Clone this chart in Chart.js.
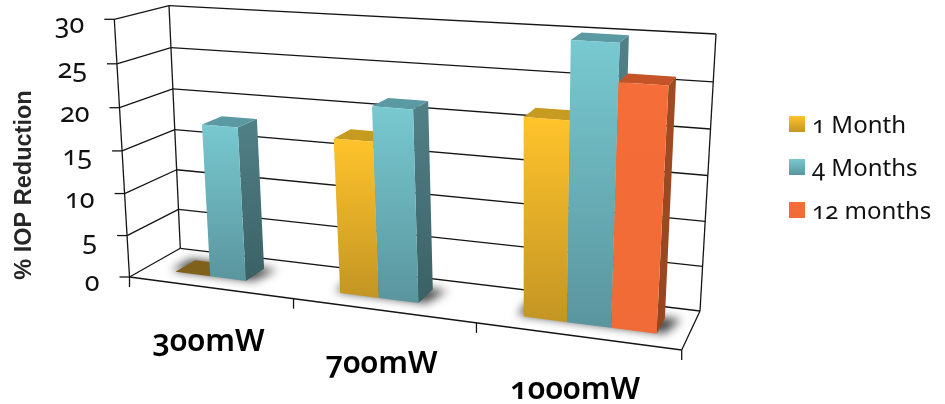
<!DOCTYPE html>
<html>
<head>
<meta charset="utf-8">
<style>
  html, body { margin: 0; padding: 0; background: #fff; }
  #alan { position: relative; width: 945px; height: 404px; overflow: hidden; }
  canvas { display: block; }
  .etiket {
    position: absolute; white-space: nowrap; color: #111;
    font-family: 'Noto Sans', sans-serif;
    font-variant-numeric: oldstyle-nums;
    font-feature-settings: "onum" 1;
    line-height: 1;
  }
</style>
<script src="https://cdn.jsdelivr.net/npm/chart.js@4"></script>
</head>
<body>
<div id="alan"><canvas id="grafik" width="945" height="404"></canvas></div>
<script>
var categories = ["300mW", "700mW", "1000mW"];
var seriesNames = ["1 Month", "4 Months", "12 months"];
var oneMonth = [0, 17.7, 21.7];
var fourMonths = [18, 21.6, 30];
var twelveMonths = [null, null, 26];
var yTicks = { min: 0, max: 30, step: 5 };
var yTitle = "% IOP Reduction";

// colours: front top, front bottom, side top, side bottom, top face
var faceColors = [
  ["#ffc32b", "#c39523", "#a67d1f", "#8a6a1c", "#c79a20"],
  ["#78c9d0", "#5a959e", "#518187", "#3a6165", "#5b9aa2"],
  ["#f56d38", "#f06b37", "#a04b23", "#96461f", "#c45427"]
];
var flatColor = "#7f611b";

// corners of the 3d box on screen
var floorCorners = [[129.5, 277], [681.7, 350], [700, 311], [180.3, 248.3]];
var roofCorners = [[114.3, 19.3], [700, 54], [716, 34], [169, 5.7]];
var barDepth = [0.3, 0.7];
var barShift = 0.008;
var lineColor = "#151515";

function kareHaritasi(q) {
  var x0 = q[0][0], y0 = q[0][1], x1 = q[1][0], y1 = q[1][1];
  var x2 = q[2][0], y2 = q[2][1], x3 = q[3][0], y3 = q[3][1];
  var dx1 = x1 - x2, dx2 = x3 - x2, dx3 = x0 - x1 + x2 - x3;
  var dy1 = y1 - y2, dy2 = y3 - y2, dy3 = y0 - y1 + y2 - y3;
  var den = dx1 * dy2 - dx2 * dy1;
  var g = (dx3 * dy2 - dx2 * dy3) / den;
  var h = (dx1 * dy3 - dx3 * dy1) / den;
  var a = x1 - x0 + g * x1, b = x3 - x0 + h * x3;
  var d = y1 - y0 + g * y1, e = y3 - y0 + h * y3;
  return function (u, v) {
    var w = g * u + h * v + 1;
    return [(a * u + b * v + x0) / w, (d * u + e * v + y0) / w];
  };
}
var floorMap = kareHaritasi(floorCorners);
var roofMap = kareHaritasi(roofCorners);

// u across, w into the wall, t height (all 0..1)
function project(u, w, t) {
  var k = 1.044;
  var f = t / (t + k * (1 - t));
  var a = floorMap(u, w), b = roofMap(u, w);
  return [a[0] + (b[0] - a[0]) * f, a[1] + (b[1] - a[1]) * f];
}

function line(ctx, a, b) {
  ctx.beginPath();
  ctx.moveTo(a[0], a[1]);
  ctx.lineTo(b[0], b[1]);
  ctx.stroke();
}

function poly(ctx, pts, fill) {
  ctx.beginPath();
  ctx.moveTo(pts[0][0], pts[0][1]);
  for (var i = 1; i < pts.length; i++) ctx.lineTo(pts[i][0], pts[i][1]);
  ctx.closePath();
  ctx.fillStyle = fill;
  ctx.fill();
}

function dikeyGradyan(ctx, top, bottom, c1, c2) {
  var g = ctx.createLinearGradient(0, top, 0, bottom);
  g.addColorStop(0, c1);
  g.addColorStop(1, c2);
  return g;
}

// canvas text has no old style digits, so labels go in html over the canvas
function etiket(text, x, y, css, ax) {
  var d = document.createElement("div");
  d.className = "etiket";
  d.textContent = text;
  d.style.cssText = "left:" + x + "px;top:" + y + "px;transform:translate(" + ax + ",-50%);" + css;
  document.getElementById("alan").appendChild(d);
}

function etiketleriTemizle() {
  document.querySelectorAll(".etiket").forEach(function (d) { d.remove(); });
}

var kutuGrafik = {
  id: "kutuGrafik",
  beforeDatasetsDraw: function (chart) {
    var ctx = chart.ctx;
    var xs = chart.scales.x, ys = chart.scales.y;
    var toU = function (px) { return (px - xs.left) / (xs.right - xs.left); };
    var toT = function (v) { return (ys.bottom - ys.getPixelForValue(v)) / (ys.bottom - ys.top); };

    etiketleriTemizle();

    // walls and grid
    ctx.save();
    ctx.strokeStyle = lineColor;
    ctx.lineWidth = 1.3;
    ys.ticks.forEach(function (tick) {
      var t = toT(tick.value);
      var a = project(0, 0, t), b = project(0, 1, t), c = project(1, 1, t);
      line(ctx, a, b);
      line(ctx, b, c);
      line(ctx, [a[0] - 10, a[1]], a);
      etiket(String(tick.value), a[0] - 30, a[1] + 3, "font-size:27px", "-100%");
    });
    line(ctx, project(0, 0, 0), project(0, 0, 1));
    line(ctx, project(0, 1, 0), project(0, 1, 1));
    line(ctx, project(1, 1, 0), project(1, 1, 1));
    line(ctx, project(0, 0, 0), project(1, 0, 0));
    line(ctx, project(1, 0, 0), project(1, 1, 0));

    // category ticks under the front edge and their labels
    var n = categories.length;
    for (var i = 0; i <= n; i++) {
      var p = project(i / n, 0, 0);
      line(ctx, p, [p[0], p[1] + 10]);
    }
    categories.forEach(function (name, i) {
      var p = project(toU(xs.getPixelForTick(i)), 0, 0);
      etiket(name, p[0] - 1, p[1] + 51, "font-size:31px;font-weight:600;color:#000", "-50%");
    });

    // axis title
    ctx.save();
    ctx.translate(25, 185);
    ctx.rotate(-Math.PI / 2);
    ctx.textAlign = "center";
    ctx.textBaseline = "middle";
    ctx.font = "bold 23.5px 'Liberation Sans'";
    ctx.fillStyle = "#262626";
    ctx.fillText(yTitle, 0, 0);
    ctx.restore();
    ctx.restore();

    // shadow under each group of bars
    var groups = categories.map(function () { return []; });
    chart.data.datasets.forEach(function (ds, d) {
      chart.getDatasetMeta(d).data.forEach(function (el, i) {
        if (ds.data[i] === null) return;
        groups[i].push({ el: el, value: ds.data[i], series: d });
      });
    });
    groups.forEach(function (bars) {
      var first = bars[0].el, last = bars[bars.length - 1].el;
      var u0 = toU(first.x - first.width / 2) + barShift, u1 = toU(last.x + last.width / 2) + barShift;
      ctx.save();
      ctx.filter = "blur(5px)";
      poly(ctx, [
        project(u0 - 0.012, barDepth[0] + 0.03, 0),
        project(u1 + 0.012, barDepth[0] + 0.03, 0),
        project(u1 + 0.026, barDepth[1] + 0.02, 0),
        project(u0 - 0.012, barDepth[1] + 0.02, 0)
      ], "rgba(0,0,0,0.72)");
      ctx.restore();

      // bars left to right: side, top, then front
      bars.forEach(function (bar) {
        var el = bar.el, col = faceColors[bar.series];
        var ua = toU(el.x - el.width / 2) + barShift, ub = toU(el.x + el.width / 2) + barShift;
        var t = toT(bar.value), wf = barDepth[0], wb = barDepth[1];
        var topFace = [project(ua, wf, t), project(ub, wf, t), project(ub, wb, t), project(ua, wb, t)];
        if (bar.value === 0) {
          poly(ctx, topFace, flatColor);
          return;
        }
        var fa = project(ua, wf, 0), fb = project(ub, wf, 0), sb = project(ub, wb, 0);
        poly(ctx, [topFace[1], topFace[2], sb, fb],
          dikeyGradyan(ctx, topFace[2][1], fb[1], col[2], col[3]));
        poly(ctx, topFace, col[4]);
        poly(ctx, [topFace[0], topFace[1], fb, fa],
          dikeyGradyan(ctx, topFace[0][1], fb[1], col[0], col[1]));
      });
    });
    // native flat bars are replaced by the boxes above
    return false;
  },
  afterDraw: function (chart) {
    // legend
    chart.data.datasets.forEach(function (ds, d) {
      var y = 124 + d * 43;
      var ctx = chart.ctx;
      ctx.fillStyle = dikeyGradyan(ctx, y - 8, y + 8, faceColors[d][0], faceColors[d][1]);
      ctx.fillRect(789, y - 8, 16, 16);
      etiket(ds.label, 812, y, "font-size:24px", "0");
    });
  }
};

new Chart(document.getElementById("grafik"), {
  type: "bar",
  data: {
    labels: categories,
    datasets: [
      { label: seriesNames[0], data: oneMonth, backgroundColor: faceColors[0][0] },
      { label: seriesNames[1], data: fourMonths, backgroundColor: faceColors[1][0] },
      { label: seriesNames[2], data: twelveMonths, backgroundColor: faceColors[2][0] }
    ]
  },
  options: {
    responsive: false,
    animation: false,
    devicePixelRatio: 1,
    datasets: { bar: { categoryPercentage: 0.66, barPercentage: 1 } },
    scales: {
      x: { display: false },
      y: { display: false, min: yTicks.min, max: yTicks.max, ticks: { stepSize: yTicks.step } }
    },
    plugins: {
      tooltip: { enabled: false },
      legend: { display: false }
    }
  },
  plugins: [kutuGrafik]
});
</script>
</body>
</html>
